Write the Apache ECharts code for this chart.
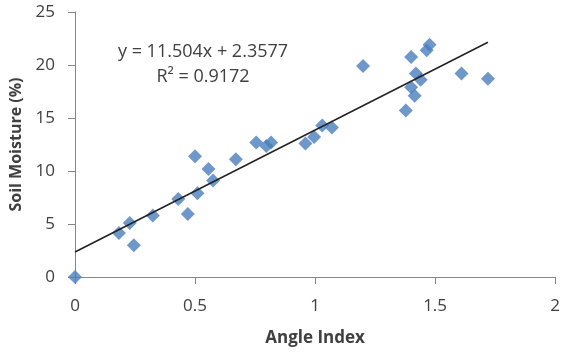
<!DOCTYPE html>
<html>
<head>
<meta charset="utf-8">
<script src="https://cdn.jsdelivr.net/npm/echarts@6/dist/echarts.min.js"></script>
<style>html,body{margin:0;padding:0;background:#fff}#c{width:563px;height:352px}</style>
</head>
<body>
<div id="c"></div>
<script>
const angleIndex = [0, 0.183, 0.228, 0.245, 0.324, 0.43, 0.47, 0.51, 0.50, 0.556, 0.575, 0.67, 0.755, 0.797, 0.817, 0.96, 0.996, 1.03, 1.07, 1.20, 1.378, 1.40, 1.415, 1.40, 1.42, 1.44, 1.465, 1.477, 1.61, 1.72];
const soilMoisture = [0, 4.15, 5.1, 3.0, 5.8, 7.35, 5.95, 7.9, 11.4, 10.2, 9.1, 11.1, 12.7, 12.35, 12.7, 12.6, 13.2, 14.3, 14.1, 19.9, 15.7, 17.9, 17.1, 20.75, 19.2, 18.6, 21.4, 21.9, 19.2, 18.7];
const trendSlope = 11.504;
const trendIntercept = 2.3577;
const trendRange = [0, 1.72];
const equationText = 'y = 11.504x + 2.3577';
const r2Text = 'R² = 0.9172';
const xTicks = [0, 0.5, 1, 1.5, 2];
const yTicks = [0, 5, 10, 15, 20, 25];

const pts = angleIndex.map((x, i) => [x, soilMoisture[i]]);
const trend = trendRange.map(x => [x, trendSlope * x + trendIntercept]);

const font = "'Open Sans', sans-serif";
const chart = echarts.init(document.getElementById('c'));
chart.setOption({
  animation: false,
  grid: {left: 75, right: 6, top: 12, bottom: 74},
  xAxis: {
    type: 'value', min: xTicks[0], max: xTicks[xTicks.length - 1], interval: xTicks[1] - xTicks[0],
    name: 'Angle Index', nameLocation: 'middle', nameGap: 53,
    nameTextStyle: {fontFamily: font, fontSize: 17, fontWeight: 'bold', color: '#404040'},
    axisLine: {show: true, lineStyle: {color: '#868686', width: 1}},
    axisTick: {show: true, length: 7, lineStyle: {color: '#868686'}},
    axisLabel: {fontFamily: font, fontSize: 17, color: '#404040', margin: 21},
    splitLine: {show: false}
  },
  yAxis: {
    type: 'value', min: yTicks[0], max: yTicks[yTicks.length - 1], interval: yTicks[1] - yTicks[0],
    name: 'Soil Moisture (%)', nameLocation: 'middle', nameGap: 51,
    nameTextStyle: {fontFamily: font, fontSize: 16, fontWeight: 'bold', color: '#404040'},
    axisLine: {show: true, lineStyle: {color: '#868686', width: 1}},
    axisTick: {show: true, length: 7, lineStyle: {color: '#868686'}},
    axisLabel: {fontFamily: font, fontSize: 17, color: '#404040', margin: 20},
    splitLine: {show: false}
  },
  series: [
    {
      type: 'line', data: trend, symbol: 'none', silent: true, z: 3,
      lineStyle: {color: '#222', width: 1.5}
    },
    {
      type: 'scatter', data: pts, symbol: 'diamond', symbolSize: 14, z: 2,
      itemStyle: {color: '#4a7ebb'}
    }
  ],
  graphic: [
    {type: 'text', x: 203, y: 52, style: {text: equationText, font: "18px 'Open Sans', sans-serif", fill: '#404040', align: 'center', verticalAlign: 'middle'}},
    {type: 'text', x: 203, y: 77, style: {text: r2Text, font: "18px 'Open Sans', sans-serif", fill: '#404040', align: 'center', verticalAlign: 'middle'}}
  ]
});
</script>
</body>
</html>
